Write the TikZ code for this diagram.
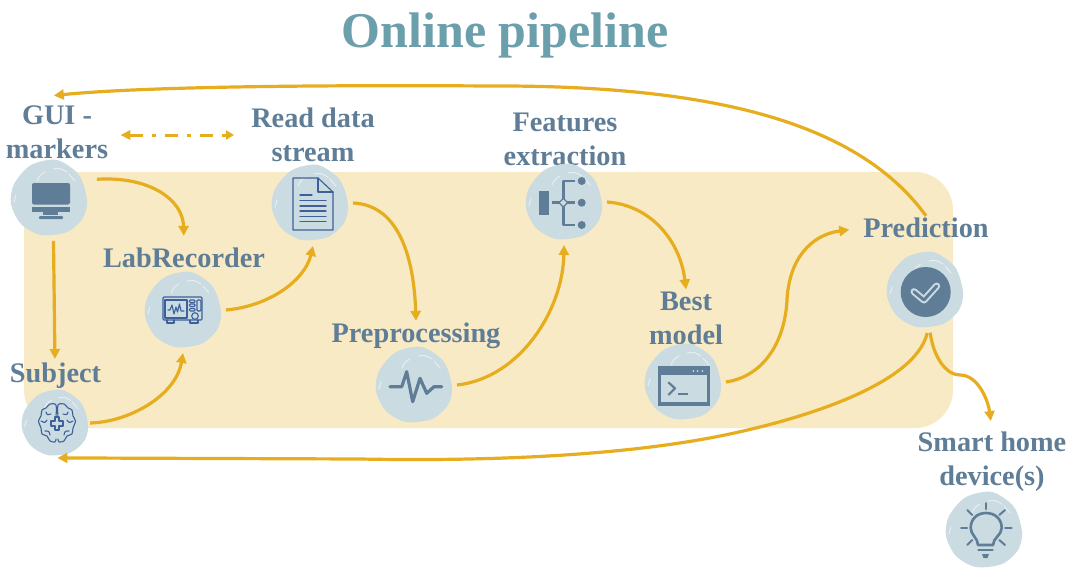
\documentclass[tikz,border=0pt]{standalone}
\usepackage{fontspec}
\setmainfont{Liberation Serif}
\usetikzlibrary{arrows.meta}
\definecolor{panelcol}{HTML}{F8EAC4}
\definecolor{flowcol}{HTML}{E6AE1E}
\definecolor{bubblecol}{HTML}{CBDBE2}
\definecolor{slatecol}{HTML}{5F7D96}
\definecolor{inkcol}{HTML}{3F5F9A}
\definecolor{titlecol}{HTML}{6A9FAB}
\tikzset{
  lbl/.style={align=center,inner sep=2pt,text=slatecol,font=\fontsize{28.3}{34}\selectfont\bfseries},
  bubble/.style={circle,fill=bubblecol,inner sep=0pt,outer sep=7pt,minimum size=#1},
  bubble/.default=72pt,
  flow/.style={draw=flowcol,line width=3.2pt,-{Triangle[length=10pt,width=10pt]}},
  shine/.style={draw=white,line width=1pt,opacity=.55,line cap=round},
  ink/.style={draw=inkcol,line width=1.1pt,line join=round,line cap=round},
  slate/.style={draw=slatecol,line width=2.6pt,line join=round,line cap=round}
}
\begin{document}
\begin{tikzpicture}[x=1pt,y=-1pt]
\useasboundingbox (0,0) rectangle (1076,576);
\fill[panelcol,rounded corners=38pt] (24,172) rectangle (953,428);

\node[text=titlecol,font=\fontsize{50}{56}\selectfont\bfseries] (title) at (505,35) {Online pipeline};

\node[lbl,outer ysep=8pt] (lblgui) at (57,132) {GUI -\\markers};
\node[lbl] (lblread) at (313,135) {Read data\\stream};
\node[lbl] (lblfeat) at (565,139) {Features\\extraction};
\node[lbl] (lbllab) at (184,258) {LabRecorder};
\node[lbl] (lblsubj) at (55.5,376) {Subject};
\node[lbl] (lblpre) at (416,336) {Preprocessing};
\node[lbl] (lblbest) at (686,318) {Best\\model};
\node[lbl] (lblpred) at (926,228) {Prediction};
\node[lbl] (lblsmart) at (992,462) {Smart home\\device(s)};

\node[bubble] (icogui) at (49,198) {};
\node[bubble] (icoread) at (310,203) {};
\node[bubble] (icolab) at (183,310) {};
\node[bubble=64pt,outer sep=3pt] (icosubj) at (55,423) {};
\node[bubble] (icopre) at (414,385) {};
\node[bubble] (icofeat) at (564,202) {};
\node[bubble] (icobest) at (683,382) {};
\node[bubble] (icopred) at (925,290) {};
\node[bubble] (icobulb) at (984,530) {};

\foreach \ico/\k in {icogui/1,icoread/1,icolab/1,icosubj/.87,icopre/1,icofeat/1,icobest/1,icopred/1,icobulb/1} {
  \begin{scope}[shift={(\ico.center)},scale=\k]
    \fill[bubblecol] plot[smooth cycle] coordinates {(38,2) (30,-23) (8,-38) (-18,-33) (-35,-14) (-38,6) (-28,26) (-8,37) (18,34) (34,20)};
    \draw[shine] (-12,-17) .. controls (-9,-23) .. (-4,-26);
    \draw[shine] (4,-29) .. controls (11,-30) .. (18,-26);
    \draw[shine] (20,-24) -- (26,-17);
    \draw[shine] (-35,4) -- (-33,-3);
  \end{scope}
}

% monitor
\fill[slatecol,rounded corners=2pt] (32,183) rectangle (70,204.5);
\fill[slatecol] (32,207) rectangle (70,212);
\fill[slatecol] (43,212) rectangle (58,215);
\fill[slatecol,rounded corners=1pt] (39,216) rectangle (63,219);

% document
\draw[ink] (293,178) -- (318,178) -- (333,192) -- (333,230) -- (293,230) -- cycle;
\draw[ink] (318,178) -- (318,192) -- (333,192);
\draw[ink] (300,195) -- (312,195);
\foreach \yy in {200.7,206,211,216.3,221.7} \draw[ink] (300,\yy) -- (326,\yy);

% lab device
\draw[ink,rounded corners=1pt] (163,297) rectangle (202,320);
\draw[ink] (165,300) rectangle (187,318);
\draw[ink] (167,320) -- (167,323) -- (174,323) -- (174,320);
\draw[ink] (190,320) -- (190,323) -- (198,323) -- (198,320);
\draw[ink] (168,310) -- (170,310) -- (172,305) -- (174,314) -- (176,307) -- (177.5,312) -- (179.5,304) -- (181,311) -- (184,311);
\foreach \yy in {300,304,308.5} \draw[ink,rounded corners=.8pt] (189.5,\yy) rectangle (195,\yy+2.5);
\draw[ink,rounded corners=1pt] (197,300) rectangle (201,311);
\draw[ink] (195,316) circle[radius=3.3];

% brain
\draw[ink] plot[smooth] coordinates {(56,439) (55,442) (50,441) (47,436) (42,434) (41,428) (38.5,421) (41,416) (42,410) (46,408) (50,404) (56,405) (56,417)};
\draw[ink] plot[smooth] coordinates {(58,439) (59,442) (64,441) (67,436) (72,434) (73,428) (75.5,421) (73,416) (72,410) (68,408) (64,404) (58,405) (58,417)};
\draw[ink] (55,417) -- (59,417) -- (59,421) -- (63,421) -- (63,426) -- (59,426) -- (59,430) -- (55,430) -- (55,426) -- (51,426) -- (51,421) -- (55,421) -- cycle;
\draw[ink] (46,412) .. controls (47,415) .. (51,414);
\draw[ink] (68,412) .. controls (67,415) .. (63,414);
\draw[ink] (41,421) .. controls (45,423) .. (47,420);
\draw[ink] (73,421) .. controls (69,423) .. (67,420);
\draw[ink] (45,431) .. controls (49,431) .. (50,435);
\draw[ink] (69,431) .. controls (65,431) .. (64,435);

% pulse
\draw[slate,line width=3.2pt] (390,386.7) -- (401.7,386.7) -- (406.7,371.7) -- (412.7,401.7) -- (420,378.3) -- (426.7,393.3) -- (434,386.7) -- (441.7,386.7);

% feature tree
\fill[slatecol] (539,190.7) rectangle (549,215);
\draw[slate,line cap=butt] (552,202.7) -- (575,202.7);
\draw[slate,line cap=butt] (575,181) -- (563.3,181) -- (563.3,225) -- (575,225);
\draw[slatecol,line width=1.2pt,fill=bubblecol] (559,202.7) -- (563.3,198.4) -- (567.6,202.7) -- (563.3,207) -- cycle;
\foreach \yy in {181,202.7,225} \fill[slatecol] (581.7,\yy) circle[radius=4];

% terminal
\draw[slatecol,line width=3.6pt] (659.5,367.5) rectangle (708.5,404);
\fill[slatecol] (658,366) rectangle (710,375);
\foreach \xx in {693.3,697.7,702.3} \fill[bubblecol] (\xx,371) circle[radius=1];
\draw[slate,line width=2.2pt,line cap=butt] (668.3,382.3) -- (675,388.3) -- (668.3,395);
\draw[slate,line width=2.2pt,line cap=butt] (678.3,394.3) -- (688.3,394.3);

% check
\fill[slatecol] (925.7,292) circle[radius=25];
\draw[bubblecol,line width=7pt,line cap=round,line join=round] (914,291.7) -- (924,300) -- (936.7,286);
\draw[slatecol,line width=3pt,line cap=round,line join=round] (914,291.7) -- (924,300) -- (936.7,286);

% bulb
\draw[slate] (978,545) .. controls (978,538) and (970.7,535) .. (970.7,528) .. controls (970.7,519) and (977,513) .. (986,513) .. controls (995,513) and (1001.7,519) .. (1001.7,528) .. controls (1001.7,535) and (993,538) .. (993,545) -- cycle;
\draw[slate] (978.5,550) -- (992.5,550);
\fill[slatecol] (982,554) -- (989,554) -- (987.5,558) -- (983.5,558) -- cycle;
\draw[slate,line width=2pt] (985.7,503) -- (985.7,509);
\draw[slate,line width=2pt] (961,528) -- (967,528);
\draw[slate,line width=2pt] (1005,528) -- (1011.7,528);
\draw[slate,line width=2pt] (967.3,510) -- (972.3,515);
\draw[slate,line width=2pt] (1005,510) -- (999.3,515);
\draw[slate,line width=2pt] (967.3,545) -- (972.3,540);
\draw[slate,line width=2pt] (1005,545) -- (999.3,540);

% connectors
\draw[flow,shorten <=9pt,shorten >=10pt] (icogui.25) .. controls (150,176) and (183,200) .. (lbllab.north);
\draw[flow,shorten >=2pt] (icogui.-84) -- (lblsubj.92);
\draw[flow] (icosubj.east) .. controls (130,422) and (176,395) .. (icolab.south);
\draw[flow] (icolab.east) .. controls (270,306) and (305,280) .. (icoread.-86);
\draw[flow] (icoread.east) .. controls (400,205) and (414,260) .. (lblpre.north);
\draw[flow] (icopre.east) .. controls (520,378) and (563,310) .. (icofeat.south);
\draw[flow] (icofeat.east) .. controls (650,205) and (680,240) .. (lblbest.north);
\draw[flow,shorten >=12pt] (icobest.east) .. controls (765,376) and (785,340) .. (787,300) .. controls (789,260) and (810,235) .. (lblpred.west);
\draw[flow] (lblpred.north) .. controls (860,125) and (720,85) .. (490,86) .. controls (340,85) and (150,86) .. (lblgui.95);
\draw[flow] (icopred.-87) .. controls (915,385) and (800,420) .. (720,436) .. controls (640,452) and (520,462) .. (360,459) -- (icosubj.-86);
\draw[flow,shorten >=9pt] (icopred.-83) .. controls (933,355) and (945,375) .. (960,375) .. controls (978,375) and (988,400) .. (lblsmart.north);
\draw[flow,line width=3pt,{Triangle[length=10pt,width=9pt]}-{Triangle[length=8pt,width=9pt]},dash pattern=on 13pt off 9pt on 4pt off 9pt,shorten <=10pt,shorten >=15pt] (lblgui.east |- lblread.west) -- (lblread.west);
\end{tikzpicture}
\end{document}
